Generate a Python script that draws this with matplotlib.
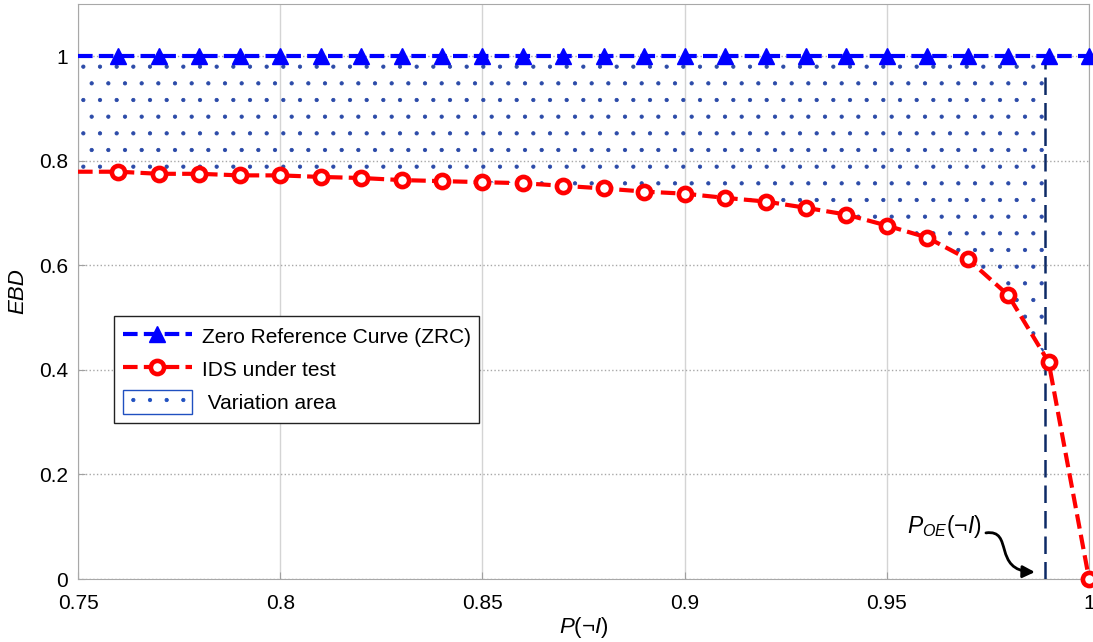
import numpy as np
import matplotlib
matplotlib.use('Agg')
from matplotlib import pyplot
from matplotlib.patches import Rectangle, Patch, FancyArrowPatch
from matplotlib.path import Path
from matplotlib.lines import Line2D

pyplot.rcParams['font.family'] = 'Liberation Sans'
pyplot.rcParams['mathtext.fontset'] = 'custom'
pyplot.rcParams['mathtext.rm'] = 'Liberation Sans'
pyplot.rcParams['mathtext.it'] = 'Liberation Sans:italic'
pyplot.rcParams['hatch.linewidth'] = 0.6

# data
p_not_i = [0.75, 0.76, 0.77, 0.78, 0.79, 0.80, 0.81, 0.82, 0.83, 0.84, 0.85,
           0.86, 0.87, 0.88, 0.89, 0.90, 0.91, 0.92, 0.93, 0.94, 0.95, 0.96,
           0.97, 0.98, 0.99, 1.00]
ebd_zrc = [1.0] * len(p_not_i)
ebd_ids = [0.779, 0.779, 0.775, 0.775, 0.772, 0.772, 0.769, 0.767, 0.763,
           0.761, 0.759, 0.757, 0.752, 0.747, 0.741, 0.737, 0.729, 0.722,
           0.710, 0.697, 0.676, 0.653, 0.612, 0.543, 0.415, 0.0]
p_oe = 0.989

xticks = [0.75, 0.8, 0.85, 0.9, 0.95, 1.0]
xticklabels = ['0.75', '0.8', '0.85', '0.9', '0.95', '1']
yticks = [0, 0.2, 0.4, 0.6, 0.8, 1.0]
yticklabels = ['0', '0.2', '0.4', '0.6', '0.8', '1']

fig = pyplot.figure(figsize=(10.93, 6.42), dpi=100)
ax = fig.add_axes([0.0714, 0.098, 0.925, 0.896])

blue = '#0000ff'
red = '#ff0000'
dots = '#2b4aa8'

# variation area (clipped at P_OE)
fill = ax.fill_between(p_not_i, ebd_ids, ebd_zrc, facecolor='none',
                       edgecolor=dots, linewidth=0, hatch='.', zorder=2)
clip = Rectangle((0.75, 0.0), p_oe - 0.75, 0.985, transform=ax.transData)
fill.set_clip_path(clip)

ax.plot(p_not_i, ebd_zrc, color=blue, linestyle='--', dashes=(3.5, 1.5),
        linewidth=3, marker='^', markersize=11, markerfacecolor=blue,
        markeredgecolor=blue, markevery=slice(1, None), zorder=5,
        clip_on=False)
ax.plot(p_not_i, ebd_ids, color=red, linestyle='--', dashes=(3.5, 1.5),
        linewidth=3, marker='o', markersize=9.5, markerfacecolor='white',
        markeredgecolor=red, markeredgewidth=3.3, markevery=slice(1, None),
        zorder=6, clip_on=False)

ax.plot([p_oe, p_oe], [0, 1.0], color='#0d2a66', linestyle='--',
        dashes=(7, 3.2), linewidth=1.8, zorder=4)

# P_OE label with curved arrow
ax.text(0.9643, 0.10, r'$P_{OE}(\neg I)$', fontsize=16.5,
        ha='center', va='center')
arrow_path = Path([(0.9745, 0.0883), (0.9815, 0.096), (0.9760, 0.016),
                   (0.9866, 0.0134)],
                  [Path.MOVETO, Path.CURVE4, Path.CURVE4, Path.CURVE4])
ax.add_patch(FancyArrowPatch(path=arrow_path, arrowstyle='-|>',
                             mutation_scale=18, color='black', lw=2,
                             zorder=7))

ax.set_xlim(0.75, 1.0)
ax.set_ylim(0, 1.1)
ax.set_xticks(xticks)
ax.set_xticklabels(xticklabels)
ax.set_yticks(yticks)
ax.set_yticklabels(yticklabels)
ax.tick_params(direction='in', length=5, color='#a0a0a0', labelsize=15)
ax.tick_params(axis='x', pad=11)
ax.tick_params(axis='y', pad=7)
ax.xaxis.grid(True, color='#d4d4d4', linestyle='-', linewidth=1)
ax.yaxis.grid(True, color='#a8a8a8', linestyle=':', linewidth=1)
ax.set_axisbelow(True)
for s in ax.spines.values():
    s.set_color('#a8a8a8')

ax.set_xlabel(r'$P(\neg I)$', fontsize=16, labelpad=1)
ax.set_ylabel('EBD', fontsize=16, style='italic', labelpad=8)

handles = [Line2D([], [], color=blue, linestyle='--', dashes=(3.5, 1.5),
                  linewidth=3, marker='^', markersize=11,
                  markerfacecolor=blue, markeredgecolor=blue),
           Line2D([], [], color=red, linestyle='--', dashes=(3.5, 1.5),
                  linewidth=3, marker='o', markersize=9.5,
                  markerfacecolor='white', markeredgecolor=red,
                  markeredgewidth=3.3),
           Patch(facecolor='white', edgecolor='#2050c0', hatch='.')]
labels = ['Zero Reference Curve (ZRC)', 'IDS under test', ' Variation area']
ax.legend(handles, labels, loc='upper left', bbox_to_anchor=(0.036, 0.457),
          fontsize=15, fancybox=False, framealpha=1, edgecolor='#222222',
          handlelength=3.3, handleheight=1.4, borderpad=0.4,
          labelspacing=0.42, handletextpad=0.5, borderaxespad=0)

fig.savefig('out.png', dpi=100)
